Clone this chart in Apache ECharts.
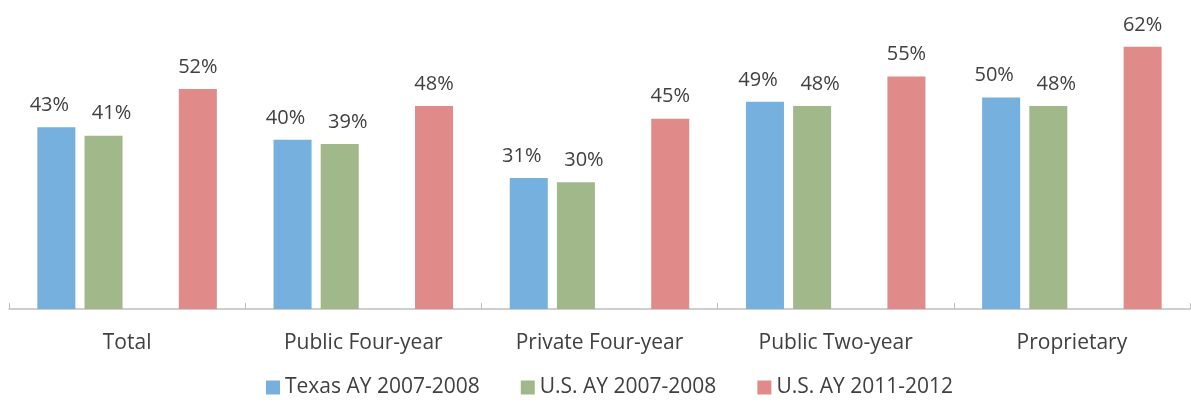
<!DOCTYPE html>
<html>
<head>
<meta charset="utf-8">
<script src="https://cdn.jsdelivr.net/npm/echarts@6/dist/echarts.min.js"></script>
<style>
  html, body { margin: 0; padding: 0; background: #fff; }
  #myChart { width: 1191px; height: 406px; }
</style>
</head>
<body>
<div id="myChart"></div>
<script>
  // categories and values
  var categories = ['Total', 'Public Four-year', 'Private Four-year', 'Public Two-year', 'Proprietary'];
  var texas0708 = [43, 40, 31, 49, 50];
  var us0708 = [41, 39, 30, 48, 48];
  var us1112 = [52, 48, 45, 55, 62];
  var emptySlot = [null, null, null, null, null];   // gap between green and red bars
  var seriesNames = ['Texas AY 2007-2008', 'U.S. AY 2007-2008', 'U.S. AY 2011-2012'];

  var font = '"Open Sans", sans-serif';
  var textColor = '#404040';

  function labelStyle(dx) {
    return {
      show: true,
      position: 'top',
      distance: 12,
      offset: [dx, 0],
      formatter: '{c}%',
      color: textColor,
      fontSize: 20,
      fontFamily: font
    };
  }

  var myChart = echarts.init(document.getElementById('myChart'));
  myChart.setOption({
    animation: false,
    grid: { left: 9, right: 1, top: 13, bottom: 97 },
    legend: {
      data: seriesNames,
      top: 372,
      left: 261,
      itemWidth: 14,
      itemHeight: 14,
      itemGap: 41,
      icon: 'rect',
      textStyle: { color: textColor, fontSize: 21, fontFamily: font }
    },
    xAxis: {
      type: 'category',
      data: categories,
      axisLine: { lineStyle: { color: '#bfbfbf', width: 1.5 } },
      axisTick: { show: true, inside: true, length: 6, lineStyle: { color: '#bfbfbf' } },
      axisLabel: { color: textColor, fontSize: 21, fontFamily: font, margin: 24 }
    },
    yAxis: {
      type: 'value',
      min: 0,
      max: 70,
      show: false
    },
    series: [
      {
        name: seriesNames[0], type: 'bar', data: texas0708,
        barGap: '24%', barCategoryGap: '24%',
        itemStyle: { color: '#76b0de' },
        label: labelStyle(-7)
      },
      {
        name: seriesNames[1], type: 'bar', data: us0708,
        itemStyle: { color: '#a1b98a' },
        label: labelStyle(8)
      },
      {
        name: '', type: 'bar', data: emptySlot,
        itemStyle: { color: 'transparent' }
      },
      {
        name: seriesNames[2], type: 'bar', data: us1112,
        itemStyle: { color: '#e08a89' },
        label: labelStyle(0)
      }
    ]
  });
</script>
</body>
</html>
